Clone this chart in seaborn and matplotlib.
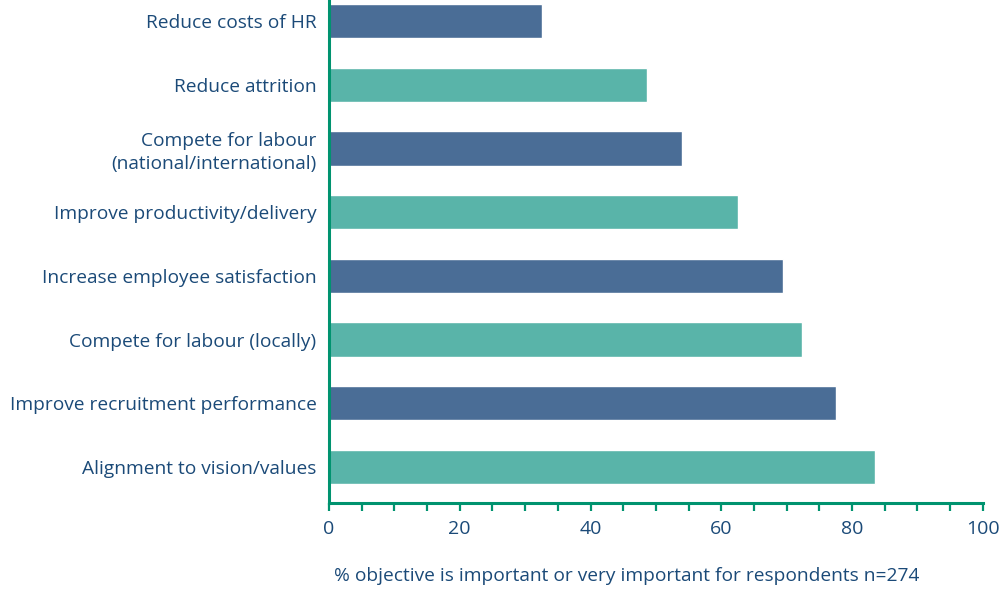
import seaborn as sns
import pandas as pd
import matplotlib.pyplot as plt
from matplotlib.ticker import MultipleLocator

# survey objectives, top to bottom
objectives = [
    'Reduce costs of HR',
    'Reduce attrition',
    'Compete for labour\n(national/international)',
    'Improve productivity/delivery',
    'Increase employee satisfaction',
    'Compete for labour (locally)',
    'Improve recruitment performance',
    'Alignment to vision/values',
]
pct_important = [32.6, 48.6, 54.0, 62.5, 69.4, 72.3, 77.5, 83.5]
bar_colors = ['#4a6d96', '#59b4a9']

text_col = '#1b4a78'
axis_col = '#00936f'


def create_plot(data, output='out.png'):
    sns.set_theme(style='white')
    plt.rcParams['font.family'] = ['Open Sans', 'DejaVu Sans']

    fig = plt.figure(figsize=(10.06, 5.89), dpi=100)
    ax = fig.add_axes([0.327, 0.146, 0.65, 0.854])

    palette = [bar_colors[i % 2] for i in range(len(data))]
    sns.barplot(data=data, x='pct', y='objective', hue='objective',
                palette=palette, legend=False, width=0.54,
                saturation=1, ax=ax)

    ax.set_xlim(0, 100)
    ax.set_ylim(7.565, -0.33)
    ax.xaxis.set_major_locator(MultipleLocator(20))
    ax.xaxis.set_minor_locator(MultipleLocator(5))

    for side in ['top', 'right']:
        ax.spines[side].set_visible(False)
    for side in ['left', 'bottom']:
        ax.spines[side].set_color(axis_col)
        ax.spines[side].set_linewidth(2.2)

    ax.tick_params(axis='x', which='both', direction='out', length=6,
                   width=1.6, color=axis_col, labelcolor=text_col,
                   labelsize=14, pad=6, bottom=True)
    ax.tick_params(axis='y', length=0, labelcolor=text_col,
                   labelsize=13.8, pad=9)
    for lbl in ax.get_yticklabels():
        lbl.set_horizontalalignment('right')
        lbl.set_multialignment('right')
        lbl.set_linespacing(1.35)

    ax.set_ylabel('')
    ax.set_xlabel('% objective is important or very important for respondents n=274',
                  color=text_col, fontsize=13.8)
    ax.xaxis.set_label_coords(0.456, -0.128)

    fig.savefig(output, dpi=100)


if __name__ == '__main__':
    df = pd.DataFrame({'objective': objectives, 'pct': pct_important})
    create_plot(df)
